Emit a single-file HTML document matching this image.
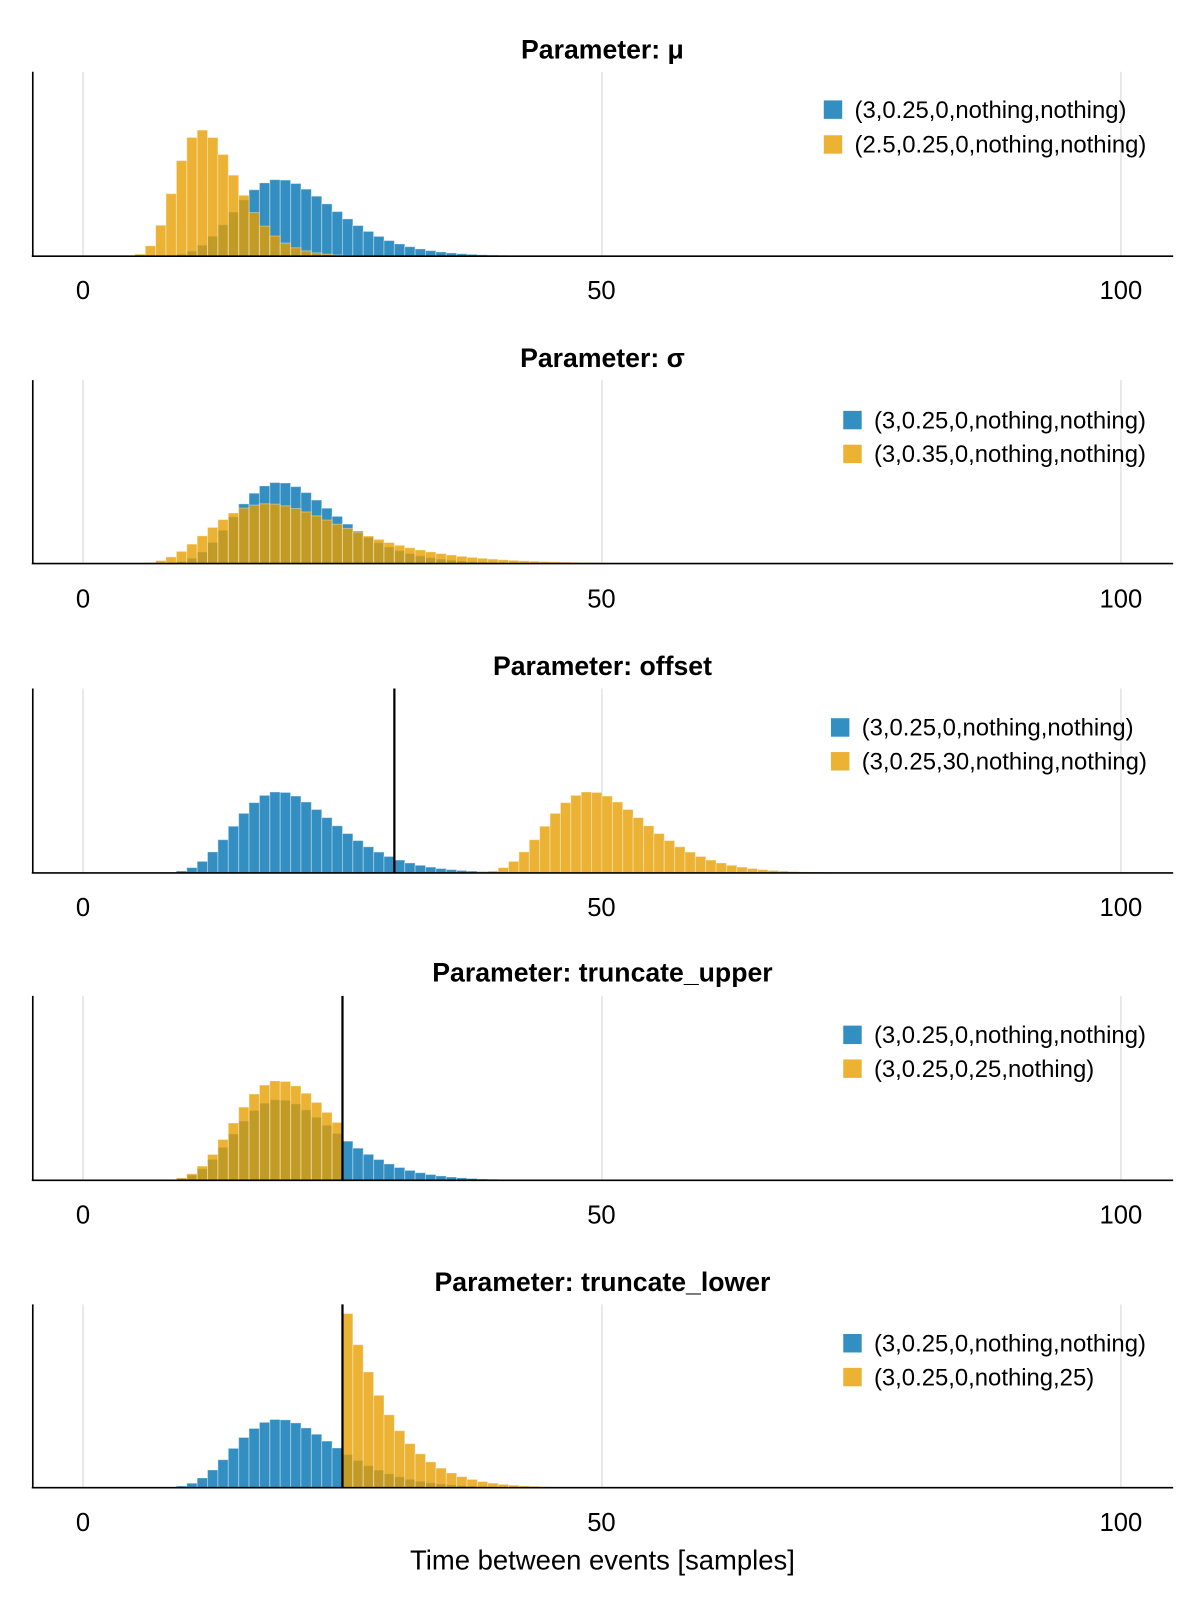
<!DOCTYPE html>
<html><head><meta charset="utf-8"><style>
body{margin:0;background:#fff;overflow:hidden;}
svg text{font-family:"Liberation Sans",Arial,sans-serif;}
</style></head><body>
<svg id="s" width="1200" height="1600" xmlns="http://www.w3.org/2000/svg">
<rect width="1200" height="1600" fill="#fff"/>
<g transform="scale(1.0246)">
<g id="grid" stroke="#e2e2e2" stroke-width="1.5"></g>
<g id="bars"></g>
<g id="axes" stroke="#000" stroke-width="1.6" fill="none"></g>
<g font-size="26" font-weight="bold" text-anchor="middle">
<text x="588" y="57">Parameter: μ</text>
<text x="588" y="358">Parameter: σ</text>
<text x="588" y="659">Parameter: offset</text>
<text x="588" y="958">Parameter: truncate_upper</text>
<text x="588" y="1260">Parameter: truncate_lower</text>
</g>
<g font-size="25" text-anchor="middle">
<text x="81" y="292">0</text><text x="587" y="292">50</text><text x="1094" y="292">100</text>
<text x="81" y="593">0</text><text x="587" y="593">50</text><text x="1094" y="593">100</text>
<text x="81" y="894">0</text><text x="587" y="894">50</text><text x="1094" y="894">100</text>
<text x="81" y="1194">0</text><text x="587" y="1194">50</text><text x="1094" y="1194">100</text>
<text x="81" y="1494">0</text><text x="587" y="1494">50</text><text x="1094" y="1494">100</text>
<text x="588" y="1532" font-size="26.8">Time between events [samples]</text>
</g>
<g font-size="23.3">
<rect x="804" y="98" width="18" height="18" fill="#338ec1"/><text x="834" y="115">(3,0.25,0,nothing,nothing)</text>
<rect x="804" y="132" width="18" height="18" fill="#ebb233"/><text x="834" y="149">(2.5,0.25,0,nothing,nothing)</text>
<rect x="823" y="401" width="18" height="18" fill="#338ec1"/><text x="853" y="418">(3,0.25,0,nothing,nothing)</text>
<rect x="823" y="434" width="18" height="18" fill="#ebb233"/><text x="853" y="451">(3,0.35,0,nothing,nothing)</text>
<rect x="811" y="701" width="18" height="18" fill="#338ec1"/><text x="841" y="718">(3,0.25,0,nothing,nothing)</text>
<rect x="811" y="734" width="18" height="18" fill="#ebb233"/><text x="841" y="751">(3,0.25,30,nothing,nothing)</text>
<rect x="823" y="1001" width="18" height="18" fill="#338ec1"/><text x="853" y="1018">(3,0.25,0,nothing,nothing)</text>
<rect x="823" y="1034" width="18" height="18" fill="#ebb233"/><text x="853" y="1051">(3,0.25,0,25,nothing)</text>
<rect x="823" y="1302" width="18" height="18" fill="#338ec1"/><text x="853" y="1319">(3,0.25,0,nothing,nothing)</text>
<rect x="823" y="1335" width="18" height="18" fill="#ebb233"/><text x="853" y="1352">(3,0.25,0,nothing,25)</text>
</g>
</g>
</svg>
<script>
function erf(x){var s=x<0?-1:1;x=Math.abs(x);var t=1/(1+0.3275911*x);var y=1-(((((1.061405429*t-1.453152027)*t)+1.421413741)*t-0.284496736)*t+0.254829592)*t*Math.exp(-x*x);return s*y;}
function cdf(x,mu,sg,off){x-=off;if(x<=0)return 0;return 0.5*(1+erf((Math.log(x)-mu)/(sg*Math.SQRT2)));}
function probs(mu,sg,off,up,lo){var p=[];var a=lo==null?0:cdf(lo,mu,sg,off),b=up==null?1:cdf(up,mu,sg,off);
for(var i=0;i<100;i++){var l=i,r=i+1;if(up!=null){r=Math.min(r,up);} if(lo!=null){l=Math.max(l,lo);} var v=r>l?(cdf(r,mu,sg,off)-cdf(l,mu,sg,off))/(b-a):0;p.push(v);}return p;}
var P=[
 {top:70,bot:250,t:123,A:[3,.25,0],B:[2.5,.25,0]},
 {top:371,bot:550,t:79,A:[3,.25,0],B:[3,.35,0]},
 {top:672,bot:852,t:79,A:[3,.25,0],B:[3,.25,30],line:30},
 {top:972,bot:1152,t:97,A:[3,.25,0],B:[3,.25,0,25,null],line:25},
 {top:1273,bot:1452,t:170,A:[3,.25,0],B:[3,.25,0,null,25],line:25}];
var ns="http://www.w3.org/2000/svg";
function el(g,tag,at){var e=document.createElementNS(ns,tag);for(var k in at)e.setAttribute(k,at[k]);document.getElementById(g).appendChild(e);}
var sx=10.13,x0=81;
P.forEach(function(p){
 [0,50,100].forEach(function(v){el("grid","line",{x1:x0+v*sx,x2:x0+v*sx,y1:p.top,y2:p.bot});});
 var a=probs.apply(null,p.A.concat([null,null])),b=probs.apply(null,p.B.length<4?p.B.concat([null,null]):p.B);
 var m=Math.max(Math.max.apply(null,a),Math.max.apply(null,b));var S=p.t/m;
 [[a,"#0072b2"],[b,"#e69f00"]].forEach(function(q){q[0].forEach(function(v,i){var h=v*S;if(h<0.1)return;
  el("bars","rect",{x:x0+i*sx,y:p.bot-h,width:sx,height:h,fill:q[1],"fill-opacity":0.8,stroke:"#fff","stroke-opacity":0.35,"stroke-width":1});});});
 el("axes","line",{x1:32,x2:32,y1:p.top,y2:p.bot});
 el("axes","line",{x1:31,x2:1145,y1:p.bot,y2:p.bot});
 if(p.line)el("axes","line",{x1:x0+p.line*sx,x2:x0+p.line*sx,y1:p.top,y2:p.bot,"stroke-width":2.2});
});
</script>
</body></html>
